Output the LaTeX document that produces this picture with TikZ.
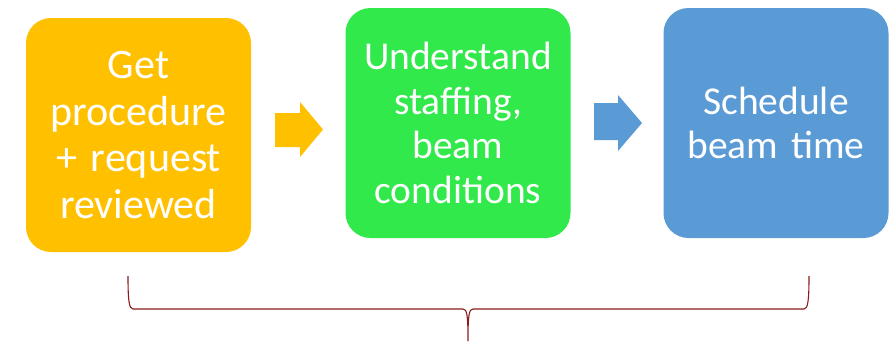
\documentclass[tikz,border=0pt]{standalone}
\usepackage{fontspec}
\setmainfont{Carlito}
\definecolor{stepyellow}{RGB}{255,192,0}
\definecolor{stepgreen}{RGB}{49,233,74}
\definecolor{stepblue}{RGB}{91,155,213}
\definecolor{bracered}{RGB}{139,26,26}
\begin{document}
\begin{tikzpicture}[x=1pt,y=-1pt,
  stepbox/.style={rounded corners=25pt, minimum width=225pt, text width=215pt,
    align=center, inner sep=0pt, text=white,
    font=\fontsize{39.5}{44.5}\selectfont}]
\useasboundingbox (0,0) rectangle (894,341);
% process steps
\node[stepbox, fill=stepyellow, minimum height=234pt,
  font=\fontsize{42}{46.5}\selectfont] (get) at (138.5,135) {Get\\procedure\\+ request\\reviewed};
\node[stepbox, fill=stepgreen, minimum height=230pt] (understand) at (458,123) {Understand\\staffing,\\beam\\conditions};
\node[stepbox, fill=stepblue, minimum height=230pt] (schedule) at (776,123) {Schedule\\beam time};
% block arrows between the steps
\fill[stepyellow] (275,113) -- (300,113) -- (300,102) -- (323,129.5) -- (300,157) -- (300,147) -- (275,147) -- cycle;
\fill[stepblue] (594,103) -- (618,103) -- (618,95) -- (642,123) -- (618,151) -- (618,140) -- (594,140) -- cycle;
% brace below the three steps
\draw[bracered, line width=1.1pt]
  (128,276) .. controls (128,300) and (129,309) .. (133,309)
  -- (463,309) .. controls (467,309) and (468,315) .. (468,341)
  .. controls (468,315) and (469,309) .. (473,309)
  -- (804,309) .. controls (808,309) and (809,300) .. (809,276);
\end{tikzpicture}
\end{document}
